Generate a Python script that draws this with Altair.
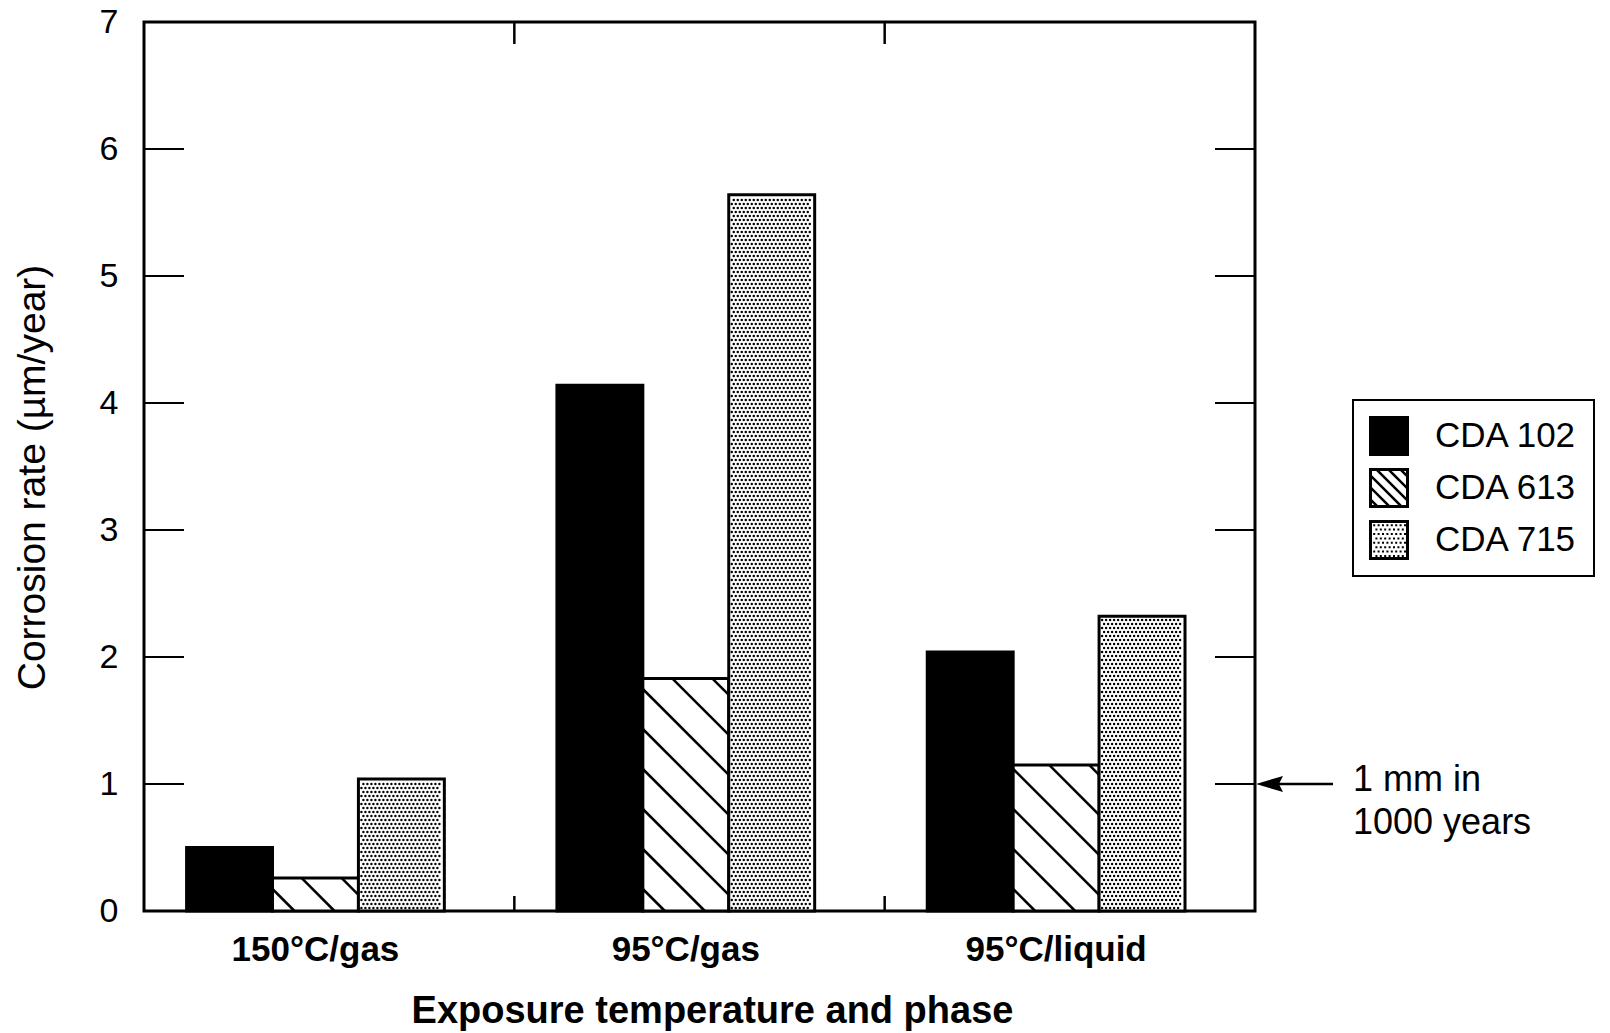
import json
import altair as alt
import pandas as pd

# ---------------- data ----------------
groups = ["150°C/gas", "95°C/gas", "95°C/liquid"]
series = ["CDA 102", "CDA 613", "CDA 715"]
cda102 = [0.50, 4.14, 2.04]
cda613 = [0.26, 1.83, 1.15]
cda715 = [1.04, 5.64, 2.32]
y_tick_values = [0, 1, 2, 3, 4, 5, 6, 7]
inner_tick_values = [1, 2, 3, 4, 5, 6]
note_lines = ["1 mm in", "1000 years"]
note_value = [1]
x_title = "Exposure temperature and phase"
y_title = "Corrosion rate (µm/year)"

# ---------------- layout ----------------
W, H = 1111, 889
PAD_L, PAD_T = 144, 22
N = len(groups)
Y_MAX = 7
kx = W / N
ky = H / Y_MAX
BAR_W = 0.232
BAR_START = 0.115
FONT = "Liberation Sans"

bar_fills = ["black", "white", "white"]

rows = []
for gi, g in enumerate(groups):
    for si, (s, vals) in enumerate(zip(series, [cda102, cda613, cda715])):
        x0 = gi + BAR_START + si * BAR_W
        rows.append(dict(group=g, series=s, value=vals[gi], x0=x0, x1=x0 + BAR_W,
                         xc=x0 + BAR_W / 2))
bars_df = pd.DataFrame(rows)

wb = BAR_W * kx  # bar width in px

# hatch lines ("\" direction) clipped to the CDA 613 bars
SP, C0 = 40, 22
hatch = []
for r in rows:
    if r["series"] != series[1]:
        continue
    hv = r["value"] * ky
    c = C0
    while c < wb + hv:
        xs = max(0.0, c - hv)
        xe = min(wb, c)
        if xe > xs:
            hatch.append(dict(hx=r["x0"] + xs / kx, hy=(c - xs) / ky,
                              hx2=r["x0"] + xe / kx, hy2=(c - xe) / ky))
        c += SP
hatch_df = pd.DataFrame(hatch)

# stipple dots inside the CDA 715 bars
DP, M = 4.0, 3.0
dots = []
for r in rows:
    if r["series"] != series[2]:
        continue
    hv = r["value"] * ky
    j = 0
    py = M
    while py < hv - M:
        px = M + (j % 2) * DP / 2
        while px < wb - M:
            dots.append(dict(dx=r["x0"] + px / kx, dy=py / ky))
            px += DP
        j += 1
        py = M + j * DP
dots_df = pd.DataFrame(dots)

label_df = pd.DataFrame({"group": groups,
                         "lx": [gi + BAR_START + 1.5 * BAR_W for gi in range(N)]})

xs_scale = alt.Scale(domain=[0, N], nice=False, zero=False)
ys_scale = alt.Scale(domain=[0, Y_MAX], nice=False, zero=True)


# ---------------- legend symbols as filled SVG paths ----------------
def fmt(v):
    return f"{v:.3f}"


def clip(poly, f):
    out = []
    n = len(poly)
    for i in range(n):
        p, q = poly[i], poly[(i + 1) % n]
        fp, fq = f(p), f(q)
        if fp >= 0:
            out.append(p)
        if (fp >= 0) != (fq >= 0):
            t = fp / (fp - fq)
            out.append((p[0] + t * (q[0] - p[0]), p[1] + t * (q[1] - p[1])))
    return out


A = 0.85  # inner edge of the symbol frame
frame = f"M-1,-1H1V1H-1ZM{-A},{-A}V{A}H{A}V{-A}Z"
sym_solid = "M-1,-1H1V1H-1Z"

inner = [(-A, -A), (A, -A), (A, A), (-A, A)]
sym_hatch = frame
HB = 0.09
for c in [-1.5, -0.9, -0.3, 0.3, 0.9, 1.5]:
    poly = clip(inner, lambda p, c=c: (p[0] - p[1]) - (c - HB))
    poly = clip(poly, lambda p, c=c: (c + HB) - (p[0] - p[1]))
    if len(poly) >= 3:
        sym_hatch += "M" + "L".join(f"{fmt(x)},{fmt(y)}" for x, y in poly) + "Z"

sym_stipple = frame
DS, DPU = 0.1, 0.22
yv, jj = -A + 0.06, 0
while yv + DS < A:
    xv = -A + 0.06 + (jj % 2) * DPU / 2
    while xv + DS < A:
        sym_stipple += f"M{fmt(xv)},{fmt(yv)}h{DS}v{DS}h{-DS}Z"
        xv += DPU
    yv += DPU
    jj += 1

shape_sc = alt.Scale(domain=series, range=[sym_solid, sym_hatch, sym_stipple])

x_axis = alt.Axis(
    values=[], ticks=False, domain=False, grid=False, labels=False,
    title=x_title, titleFontSize=38, titleFontWeight="bold", titleColor="black",
    titleFont=FONT, titleX=568, titleY=111, titleBaseline="alphabetic",
    titleAlign="center",
)
y_axis = alt.Axis(
    values=y_tick_values, format="d", ticks=False, domain=False, grid=False,
    labelFlush=False, labelFontSize=34, labelColor="black", labelPadding=26,
    labelFont=FONT,
    title=y_title, titleFontSize=39, titleFontWeight="normal", titleColor="black",
    titleFont=FONT, titleAngle=270, titleX=-100, titleY=455,
    titleBaseline="alphabetic", titleAlign="center",
)

legend = alt.Legend(
    title=None, orient="none", legendX=1209, legendY=378, direction="vertical",
    strokeColor="black", padding=16, fillColor="white",
    symbolSize=1600, symbolStrokeWidth=0, symbolFillColor="black",
    symbolOpacity=1, rowPadding=12, labelOffset=26,
    labelFontSize=35, labelFont=FONT, labelColor="black",
)

bar_layers = []
for si, s in enumerate(series):
    bar_layers.append(
        alt.Chart(bars_df).transform_filter(alt.datum.series == s)
        .mark_rect(stroke="black", strokeWidth=3, fill=bar_fills[si]).encode(
            x=alt.X("x0:Q", scale=xs_scale, axis=x_axis),
            x2="x1:Q",
            y=alt.Y("value:Q", scale=ys_scale, axis=y_axis),
            y2=alt.datum(0),
        )
    )

hatch_layer = alt.Chart(hatch_df).mark_rule(stroke="black", strokeWidth=2.5).encode(
    x=alt.X("hx:Q", scale=xs_scale),
    x2="hx2:Q",
    y=alt.Y("hy:Q", scale=ys_scale),
    y2="hy2:Q",
)

dots_layer = alt.Chart(dots_df).mark_circle(size=6, color="black", opacity=1).encode(
    x=alt.X("dx:Q", scale=xs_scale),
    y=alt.Y("dy:Q", scale=ys_scale),
)

group_labels = alt.Chart(label_df).mark_text(
    baseline="alphabetic", fontSize=35, fontWeight="bold", font=FONT,
    color="black", dy=50).encode(
    x=alt.X("lx:Q", scale=xs_scale), y=alt.value(H), text="group:N")

ticks_df = pd.DataFrame({"v": inner_tick_values})
left_ticks = alt.Chart(ticks_df).mark_rule(stroke="black", strokeWidth=2).encode(
    y=alt.Y("v:Q", scale=ys_scale), x=alt.value(0), x2=alt.value(40))
right_ticks = alt.Chart(ticks_df).mark_rule(stroke="black", strokeWidth=2).encode(
    y=alt.Y("v:Q", scale=ys_scale), x=alt.value(W - 40), x2=alt.value(W))

sep_df = pd.DataFrame({"b": list(range(1, N))})
top_sep = alt.Chart(sep_df).mark_rule(stroke="black", strokeWidth=2.5).encode(
    x=alt.X("b:Q", scale=xs_scale), y=alt.value(0), y2=alt.value(22))
bot_sep = alt.Chart(sep_df).mark_rule(stroke="black", strokeWidth=2.5).encode(
    x=alt.X("b:Q", scale=xs_scale), y=alt.value(H - 15), y2=alt.value(H))

legend_pts = alt.Chart(bars_df).mark_point(filled=True, opacity=0).encode(
    x=alt.X("xc:Q", scale=xs_scale),
    y=alt.Y("value:Q", scale=ys_scale),
    fill=alt.Fill("series:N",
                  scale=alt.Scale(domain=series, range=["black"] * len(series)),
                  legend=legend),
    shape=alt.Shape("series:N", scale=shape_sc, legend=legend),
)

note_df = pd.DataFrame({"v": note_value})
arrow_shaft = alt.Chart(note_df).mark_rule(stroke="black", strokeWidth=2.5).encode(
    y=alt.Y("v:Q", scale=ys_scale), x=alt.value(W + 20), x2=alt.value(W + 78))
arrow_head = alt.Chart(note_df).mark_point(
    shape="M-1,0L1,-0.6L0.7,0L1,0.6Z", size=729, filled=True, color="black",
    opacity=1, strokeWidth=0).encode(
    y=alt.Y("v:Q", scale=ys_scale), x=alt.value(W + 14.5))
note_text = alt.Chart(note_df).mark_text(
    align="left", baseline="alphabetic", dy=7, fontSize=36, lineHeight=43,
    font=FONT, color="black").encode(
    y=alt.Y("v:Q", scale=ys_scale), x=alt.value(1209),
    text=alt.value(note_lines))

chart = alt.layer(
    *bar_layers, hatch_layer, dots_layer, left_ticks, right_ticks, top_sep, bot_sep,
    group_labels, legend_pts, arrow_shaft, arrow_head, note_text,
).properties(
    width=W, height=H,
    autosize=alt.AutoSizeParams(type="none"),
    padding={"left": PAD_L, "top": PAD_T, "right": 1610 - PAD_L - W,
             "bottom": 1033 - PAD_T - H},
    background="white",
).configure(font=FONT).configure_view(stroke="black", strokeWidth=3).configure_legend(
    strokeWidth=2)

chart.save("out.html", embed_options={"renderer": "svg", "actions": False})
